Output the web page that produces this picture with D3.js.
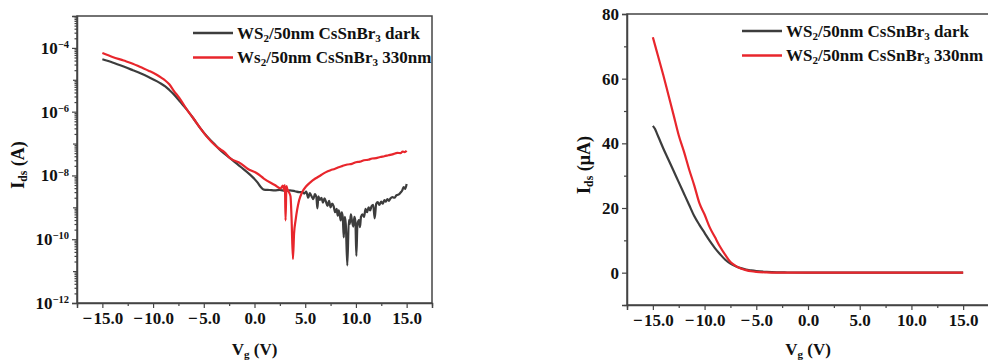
<!DOCTYPE html>
<html><head><meta charset="utf-8">
<script src="https://cdn.jsdelivr.net/npm/d3@7"></script>
<style>
html,body{margin:0;padding:0;background:#fff;}
svg text{font-family:"Liberation Serif","Times New Roman",serif;font-weight:bold;fill:#111;}
</style></head>
<body>
<svg id="chart" width="988" height="363"></svg>
<script>
// ---------- DATA (left panel, log scale, Ids in A) ----------
const logVgDark = [-15,-14,-12.9,-12,-11.25,-10.4,-9.6,-9.2,-8.8,-8.4,-7.97,-7.3,-6.65,-6.0,-5.33,-4.7,-4.0,-3.5,-3.0,-2.2,-1.38,-0.5,0.27,0.6,0.92,
  1.5,2.0,2.5,3.0,3.5,4.0,4.4,4.7,4.9,5.1,5.3,5.45,5.6,5.8,5.95,6.1,6.2,6.3,6.45,6.6,6.75,6.9,7.05,7.2,7.35,7.5,7.65,7.8,7.95,8.1,8.2,8.3,8.4,8.5,8.6,8.7,8.8,8.9,9.0,9.15,9.3,9.4,9.5,9.6,9.74,9.85,9.95,10.04,10.15,10.3,10.4,10.5,10.65,10.8,10.95,11.1,11.25,11.4,11.55,11.7,11.85,12.0,12.15,12.3,12.5,12.65,12.8,12.95,13.1,13.25,13.4,13.6,13.8,14.0,14.2,14.4,14.55,14.7,14.85,15.0];
const logIdsDark = [4.4e-5,3.5e-5,2.6e-5,2.0e-5,1.6e-5,1.2e-5,8.9e-6,7.5e-6,6.2e-6,4.8e-6,3.55e-6,2.0e-6,1.14e-6,6.0e-7,3.0e-7,1.7e-7,1.0e-7,6.8e-8,4.9e-8,3.1e-8,1.87e-8,1.1e-8,6.2e-9,4.4e-9,3.6e-9,
  3.5e-9,3.4e-9,3.5e-9,3.3e-9,3.4e-9,3.2e-9,3.0e-9,3.0e-9,2.7e-9,3.1e-9,2.0e-9,2.8e-9,2.3e-9,1.8e-9,2.6e-9,2.1e-9,9.3e-10,2.2e-9,1.7e-9,2.0e-9,1.4e-9,1.9e-9,1.5e-9,1.1e-9,1.6e-9,1.0e-9,1.3e-9,1.1e-9,7e-10,9e-10,5.5e-10,8e-10,6e-10,3.9e-10,7e-10,5e-10,1.15e-10,5e-10,3e-10,1.5e-11,4e-10,3e-10,6e-10,4e-10,2.5e-10,5e-10,3.5e-10,3.0e-11,3e-10,4e-10,2.4e-10,5e-10,6e-10,5e-10,9e-10,7e-10,1.0e-9,8e-10,1.1e-9,1.2e-9,4.5e-10,1.3e-9,1.45e-9,1.2e-9,1.5e-9,1.3e-9,1.7e-9,1.5e-9,1.8e-9,1.6e-9,1.9e-9,2.1e-9,2.0e-9,2.4e-9,2.5e-9,2.9e-9,3.3e-9,4.3e-9,3.8e-9,5.4e-9];
const logVgLight = [-15,-14,-12.9,-12,-11.25,-10.4,-9.6,-9.2,-8.8,-8.4,-7.97,-7.3,-6.65,-6.0,-5.33,-4.7,-4.0,-3.5,-3.0,-2.37,-1.38,-0.72,0.27,0.92,
  2.0,2.57,2.8,2.95,3.0,3.06,3.15,3.22,3.39,3.55,3.65,3.79,3.9,4.05,4.4,4.7,5.1,5.53,6.0,6.5,7.0,7.5,7.9,8.3,8.7,9.15,9.6,10.0,10.4,10.8,11.2,11.6,12.0,12.4,12.8,13.2,13.6,14.1,14.4,14.6,14.8,15.0];
const logIdsLight = [6.9e-5,5.2e-5,4.0e-5,3.2e-5,2.5e-5,1.9e-5,1.41e-5,1.17e-5,9.5e-6,7.2e-6,4.6e-6,2.4e-6,1.14e-6,6.0e-7,3.0e-7,1.65e-7,9.5e-8,7.0e-8,5.5e-8,3.4e-8,2.4e-8,1.65e-8,1.15e-8,8.0e-9,
  5.0e-9,3.9e-9,4.8e-9,3.3e-9,5e-9,3.9e-10,4.6e-9,3.9e-9,3.0e-9,2.2e-9,5e-10,2.4e-11,1.5e-10,3.9e-10,1.66e-9,3.0e-9,4.6e-9,6.2e-9,8e-9,1.0e-8,1.25e-8,1.46e-8,1.6e-8,1.8e-8,2.0e-8,2.2e-8,2.3e-8,2.6e-8,2.7e-8,3.0e-8,3.1e-8,3.4e-8,3.5e-8,3.8e-8,4.0e-8,4.3e-8,4.6e-8,5.1e-8,5.0e-8,5.6e-8,5.4e-8,6.0e-8];

// ---------- DATA (right panel, linear, Ids in µA) ----------
const linVgDark  = [-15,-14.8,-14.6,-14.4,-14,-13.5,-13,-12.5,-12,-11.5,-11,-10.5,-10,-9.5,-9,-8.5,-8,-7.5,-7,-6.5,-6,-5.5,-5,-4,-3,-2,0,5,10,15];
const linIdsDark = [45.4,44.5,43,41.5,38.5,35,31.5,28,24.5,21,17.5,14.8,12.3,9.8,7.6,5.7,4.0,2.8,2.0,1.4,0.95,0.7,0.5,0.25,0.1,0.05,0,0,0,0];
const linVgLight  = [-15,-14.5,-14,-13.5,-13,-12.5,-12,-11.5,-11,-10.5,-10,-9.5,-9,-8.5,-8,-7.5,-7,-6.5,-6,-5.5,-5,-4,-3,0,5,10,15];
const linIdsLight = [72.8,67,61.2,55,48.8,42.5,37.5,32,27,21.5,18,14,11,8,5.5,3.3,2.1,1.3,0.8,0.45,0.25,0.08,0.02,0,0,0,0];

// ---------- TICKS / LABELS ----------
const xTicks = [-15,-10,-5,0,5,10,15];
const xMinorTicks = [-17.5,-12.5,-7.5,-2.5,2.5,7.5,12.5,17.5];
const logMajorTicks = [1e-12,1e-10,1e-8,1e-6,1e-4];
const logOddTicks = [1e-11,1e-9,1e-7,1e-5,1e-3];
const linYTicks = [0,20,40,60,80];
const linYMinor = [-10,10,30,50,70];
const legendDark = ["WS","2","/50nm CsSnBr","3"," dark"];
const legendLightLeft = ["Ws","2","/50nm CsSnBr","3"," 330nm"];
const legendLightRight = ["WS","2","/50nm CsSnBr","3"," 330nm"];
const colDark = "#3d3d3d", colLight = "#e8262c", axisCol = "#444";

const svg = d3.select("#chart");
const fmtX = d => (d < 0 ? "\u2212\u200A" : "") + Math.abs(d).toFixed(1);

function richText(sel, parts){
  parts.forEach((p,i)=>{
    const sub = i % 2 === 1;
    sel.append("tspan").text(p)
      .attr("font-size", sub ? "0.65em" : null)
      .attr("baseline-shift", sub ? "-25%" : null);
  });
}

function panel(opt){
  const g = svg.append("g");
  const {x, y} = opt;
  const [x0,x1] = x.range(), [yb,yt] = y.range();
  g.append("rect").attr("x",x0).attr("y",yt).attr("width",x1-x0).attr("height",yb-yt)
    .attr("fill","none").attr("stroke",axisCol).attr("stroke-width",1.5);
  g.append("g").attr("transform",`translate(0,${yb})`)
    .call(d3.axisBottom(x).tickValues(xTicks).tickFormat(fmtX).tickSize(5).tickPadding(4));
  g.append("g").attr("transform",`translate(0,${yb})`)
    .call(d3.axisBottom(x).tickValues(xMinorTicks).tickFormat("").tickSize(3))
    .select(".domain").remove();
  const ya = g.append("g").attr("transform",`translate(${x0},0)`);
  opt.yAxis(ya, g);
  g.selectAll(".domain").attr("stroke",axisCol).attr("stroke-width",1.5);
  g.selectAll(".tick line").attr("stroke",axisCol).attr("stroke-width",1.2);
  g.selectAll(".tick text").attr("font-size",17).attr("fill","#111");
  const line = d3.line().x(d=>x(d[0])).y(d=>y(d[1])).curve(d3.curveMonotoneX);
  opt.series.forEach(s=>{
    g.append("path").datum(d3.zip(s.vx, s.vy)).attr("d",line)
      .attr("fill","none").attr("stroke",s.color).attr("stroke-width",2.2).attr("stroke-linejoin","round");
  });
  opt.series.forEach((s,i)=>{
    const ly = opt.legY + i*24.6;
    g.append("line").attr("x1",opt.legX).attr("x2",opt.legX+40).attr("y1",ly).attr("y2",ly)
      .attr("stroke",s.color).attr("stroke-width",2.5);
    const t = g.append("text").attr("x",opt.legX+44).attr("y",ly+5.5).attr("font-size",17);
    richText(t, s.label);
  });
  const xt = g.append("text").attr("x",x(0)).attr("y",355).attr("text-anchor","middle").attr("font-size",17);
  richText(xt, ["V","g"," (V)"]);
  const yt2 = g.append("text").attr("transform",`translate(${opt.ytX},${opt.ytY}) rotate(-90)`)
    .attr("text-anchor","middle").attr("font-size",18);
  richText(yt2, opt.yTitle);
}

// Left panel
const xL = d3.scaleLinear().domain([-17.5,17.5]).range([77,432]);
const yL = d3.scaleLog().domain([1e-12,1e-3]).range([303,16]);
panel({
  x:xL, y:yL, ytX:24, ytY:165, yTitle:["I","ds"," (A)"],
  legX:193, legY:33,
  yAxis:(ya)=>{
    ya.call(d3.axisLeft(yL).tickValues(logMajorTicks).tickSize(5).tickPadding(3).tickFormat(()=>""));
    ya.selectAll(".tick text").each(function(d){
      const t = d3.select(this);
      t.append("tspan").text("10");
      t.append("tspan").text("\u2212"+Math.round(-Math.log10(d))).attr("font-size","0.62em").attr("dy","-0.55em");
    });
    ya.append("g").call(d3.axisLeft(yL).tickValues(logOddTicks).tickSize(4).tickFormat("")).select(".domain").remove();
    const small = [];
    for (let e=-12; e<-3; e++) for (let k=2;k<10;k++) small.push(k*Math.pow(10,e));
    ya.append("g").call(d3.axisLeft(yL).tickValues(small).tickSize(2.5).tickFormat("")).select(".domain").remove();
  },
  series:[
    {vx:logVgDark, vy:logIdsDark, color:colDark, label:legendDark},
    {vx:logVgLight, vy:logIdsLight, color:colLight, label:legendLightLeft}
  ]
});

// Right panel
const xR = d3.scaleLinear().domain([-17.5,17.5]).range([627,989]);
const yR = d3.scaleLinear().domain([-10,80]).range([305,14]);
panel({
  x:xR, y:yR, ytX:590, ytY:165, yTitle:["I","ds"," (\u03BCA)"],
  legX:742, legY:31,
  yAxis:(ya)=>{
    ya.call(d3.axisLeft(yR).tickValues(linYTicks).tickSize(5).tickPadding(3).tickFormat(d3.format("d")));
    ya.append("g").call(d3.axisLeft(yR).tickValues(linYMinor).tickSize(3).tickFormat("")).select(".domain").remove();
  },
  series:[
    {vx:linVgDark, vy:linIdsDark, color:colDark, label:legendDark},
    {vx:linVgLight, vy:linIdsLight, color:colLight, label:legendLightRight}
  ]
});
</script>
</body></html>
